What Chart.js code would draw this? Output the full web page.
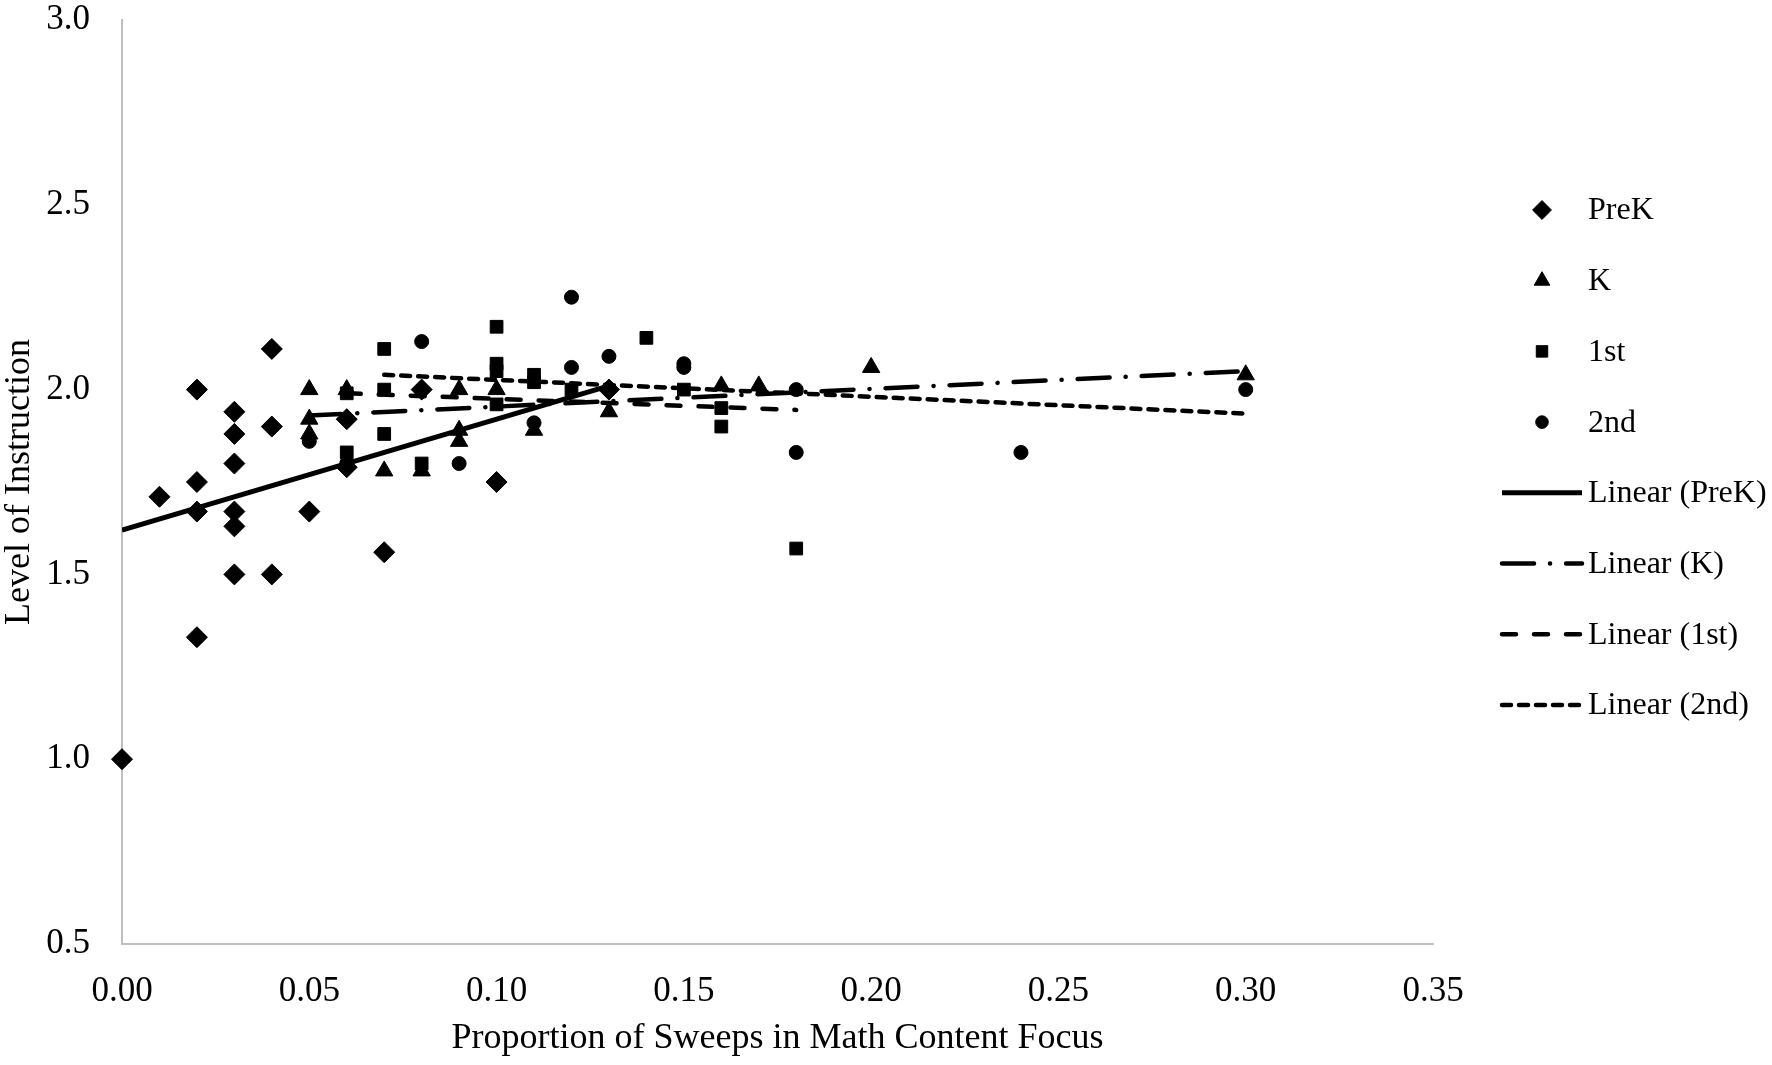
<!DOCTYPE html>
<html>
<head>
<meta charset="utf-8">
<title>Level of Instruction vs Math Content Focus</title>
<script src="https://cdn.jsdelivr.net/npm/chart.js@4.4.1/dist/chart.umd.min.js"></script>
<style>
    html, body { margin: 0; padding: 0; background: #ffffff; overflow: hidden; }
    #wrap { width: 1772px; height: 1065px; position: relative; }
</style>
</head>
<body>
<div id="wrap"><canvas id="sweepsChart"></canvas></div>
<script>
// Values
const prekX = [0.00, 0.01, 0.02, 0.02, 0.02, 0.02, 0.03, 0.03, 0.03, 0.03, 0.03, 0.03, 0.04, 0.04, 0.04, 0.05, 0.06, 0.06, 0.07, 0.08, 0.10, 0.13];
const prekY = [1.00, 1.71, 2.00, 1.75, 1.67, 1.33, 1.94, 1.88, 1.80, 1.67, 1.63, 1.50, 2.11, 1.90, 1.50, 1.67, 1.92, 1.79, 1.56, 2.00, 1.75, 2.00];

const kX = [0.05, 0.05, 0.05, 0.06, 0.07, 0.08, 0.09, 0.09, 0.09, 0.10, 0.11, 0.13, 0.16, 0.17, 0.20, 0.30];
const kY = [2.00, 1.92, 1.88, 2.00, 1.78, 1.78, 2.00, 1.89, 1.86, 2.00, 1.89, 1.94, 2.01, 2.01, 2.06, 2.04];

const firstX = [0.06, 0.06, 0.07, 0.07, 0.07, 0.08, 0.10, 0.10, 0.10, 0.10, 0.11, 0.11, 0.12, 0.14, 0.15, 0.16, 0.16, 0.18];
const firstY = [1.99, 1.83, 2.11, 2.00, 1.88, 1.80, 2.17, 2.07, 2.05, 1.96, 2.04, 2.02, 2.00, 2.14, 2.00, 1.95, 1.90, 1.57];

const secondX = [0.05, 0.06, 0.08, 0.09, 0.11, 0.12, 0.12, 0.13, 0.15, 0.15, 0.18, 0.18, 0.24, 0.30];
const secondY = [1.86, 1.80, 2.13, 1.80, 1.91, 2.25, 2.06, 2.09, 2.07, 2.06, 2.00, 1.83, 1.83, 2.00];

// Trend line end points as drawn in the figure
const prekTrendX = [0.00, 0.13];
const prekTrendY = [1.62, 2.01];
const kTrendX = [0.05, 0.30];
const kTrendY = [1.93, 2.05];
const firstTrendX = [0.06, 0.18];
const firstTrendY = [1.99, 1.945];
const secondTrendX = [0.07, 0.30];
const secondTrendY = [2.04, 1.935];

const seriesLabels = ['PreK', 'K', '1st', '2nd', 'Linear (PreK)', 'Linear (K)', 'Linear (1st)', 'Linear (2nd)'];
const xTicks = [0.00, 0.05, 0.10, 0.15, 0.20, 0.25, 0.30, 0.35];
const yTicks = [0.5, 1.0, 1.5, 2.0, 2.5, 3.0];

const FONT = "'Liberation Serif', 'Times New Roman', serif";

function toPoints(xs, ys) {
    return xs.map((x, i) => ({ x: x, y: ys[i] }));
}

function markerSet(label, xs, ys, style, radius) {
    return {
        label: label,
        data: toPoints(xs, ys),
        pointStyle: style,
        pointRadius: radius,
        pointHoverRadius: radius,
        pointBackgroundColor: '#000000',
        pointBorderColor: '#000000',
        pointBorderWidth: 1,
        showLine: false,
        clip: false,
        order: 2
    };
}

function trendSet(label, xs, ys, dash, width) {
    return {
        label: label,
        data: toPoints(xs, ys),
        showLine: true,
        borderColor: '#000000',
        borderWidth: width,
        borderDash: dash,
        borderCapStyle: dash.length ? 'round' : 'butt',
        pointRadius: 0,
        pointHoverRadius: 0,
        fill: false,
        order: 1
    };
}

// Legend on the right, drawn with the dataset styles
const sideLegend = {
    id: 'sideLegend',
    afterDraw(chart) {
        const ctx = chart.ctx;
        const area = chart.chartArea;
        const lineStart = area.right + 69;
        const lineEnd = lineStart + 80;
        const markX = (lineStart + lineEnd) / 2;
        const textX = lineEnd + 6;
        const top = 210;
        const gap = 70.7;

        ctx.save();
        ctx.font = "32px " + FONT;
        ctx.textBaseline = 'middle';
        ctx.textAlign = 'left';
        chart.data.datasets.forEach((ds, i) => {
            const y = top + i * gap;
            ctx.fillStyle = '#000000';
            ctx.strokeStyle = '#000000';
            if (ds.showLine) {
                ctx.lineWidth = ds.borderWidth;
                ctx.lineCap = ds.borderCapStyle;
                ctx.setLineDash(ds.borderDash);
                ctx.beginPath();
                ctx.moveTo(lineStart, y);
                ctx.lineTo(lineEnd, y);
                ctx.stroke();
                ctx.setLineDash([]);
            } else {
                Chart.helpers.drawPoint(ctx, {
                    pointStyle: ds.pointStyle,
                    radius: ds.pointRadius * 0.9,
                    rotation: 0,
                    borderWidth: 1
                }, markX, y);
            }
            ctx.fillStyle = '#000000';
            ctx.fillText(seriesLabels[i], textX, y + 1);
        });
        ctx.restore();
    }
};

const ctx = document.getElementById('sweepsChart').getContext('2d');

new Chart(ctx, {
    type: 'scatter',
    data: {
        datasets: [
            markerSet(seriesLabels[0], prekX, prekY, 'rectRot', 10.5),
            markerSet(seriesLabels[1], kX, kY, 'triangle', 10),
            markerSet(seriesLabels[2], firstX, firstY, 'rect', 9),
            markerSet(seriesLabels[3], secondX, secondY, 'circle', 7),
            trendSet(seriesLabels[4], prekTrendX, prekTrendY, [], 5),
            trendSet(seriesLabels[5], kTrendX, kTrendY, [32, 16, 0.1, 16], 4.5),
            trendSet(seriesLabels[6], firstTrendX, firstTrendY, [14, 18], 4.5),
            trendSet(seriesLabels[7], secondTrendX, secondTrendY, [9, 8], 4.5)
        ]
    },
    options: {
        responsive: true,
        maintainAspectRatio: false,
        animation: false,
        devicePixelRatio: 1,
        layout: { padding: { top: 20, right: 339, bottom: 0, left: 0 } },
        plugins: {
            legend: { display: false },
            tooltip: { enabled: false }
        },
        scales: {
            x: {
                type: 'linear',
                min: xTicks[0],
                max: xTicks[xTicks.length - 1],
                afterBuildTicks: (scale) => { scale.ticks = xTicks.map(v => ({ value: v })); },
                afterFit: (scale) => { scale.height = 121; },
                grid: { display: false, drawTicks: false },
                border: { display: true, color: '#bfbfbf', width: 2 },
                ticks: {
                    color: '#000000',
                    padding: 27,
                    font: { family: FONT, size: 35 },
                    callback: (v) => Number(v).toFixed(2)
                },
                title: {
                    display: true,
                    text: 'Proportion of Sweeps in Math Content Focus',
                    color: '#000000',
                    font: { family: FONT, size: 36 },
                    padding: { top: 0, bottom: 5 }
                }
            },
            y: {
                type: 'linear',
                min: yTicks[0],
                max: yTicks[yTicks.length - 1],
                afterBuildTicks: (scale) => { scale.ticks = yTicks.map(v => ({ value: v })); },
                afterFit: (scale) => {
                    scale.width = 122;
                    // the label padding should not push the plot down
                    scale.paddingTop = 0;
                    scale.paddingBottom = 0;
                },
                grid: { display: false, drawTicks: false },
                border: { display: true, color: '#bfbfbf', width: 2 },
                ticks: {
                    color: '#000000',
                    padding: 32,
                    font: { family: FONT, size: 35, lineHeight: 1.0 },
                    callback: (v) => Number(v).toFixed(1)
                },
                title: {
                    display: true,
                    text: 'Level of Instruction',
                    color: '#000000',
                    font: { family: FONT, size: 36, lineHeight: 1.1 },
                    padding: { top: 0, bottom: 0 }
                }
            }
        }
    },
    plugins: [sideLegend]
});
</script>
</body>
</html>
